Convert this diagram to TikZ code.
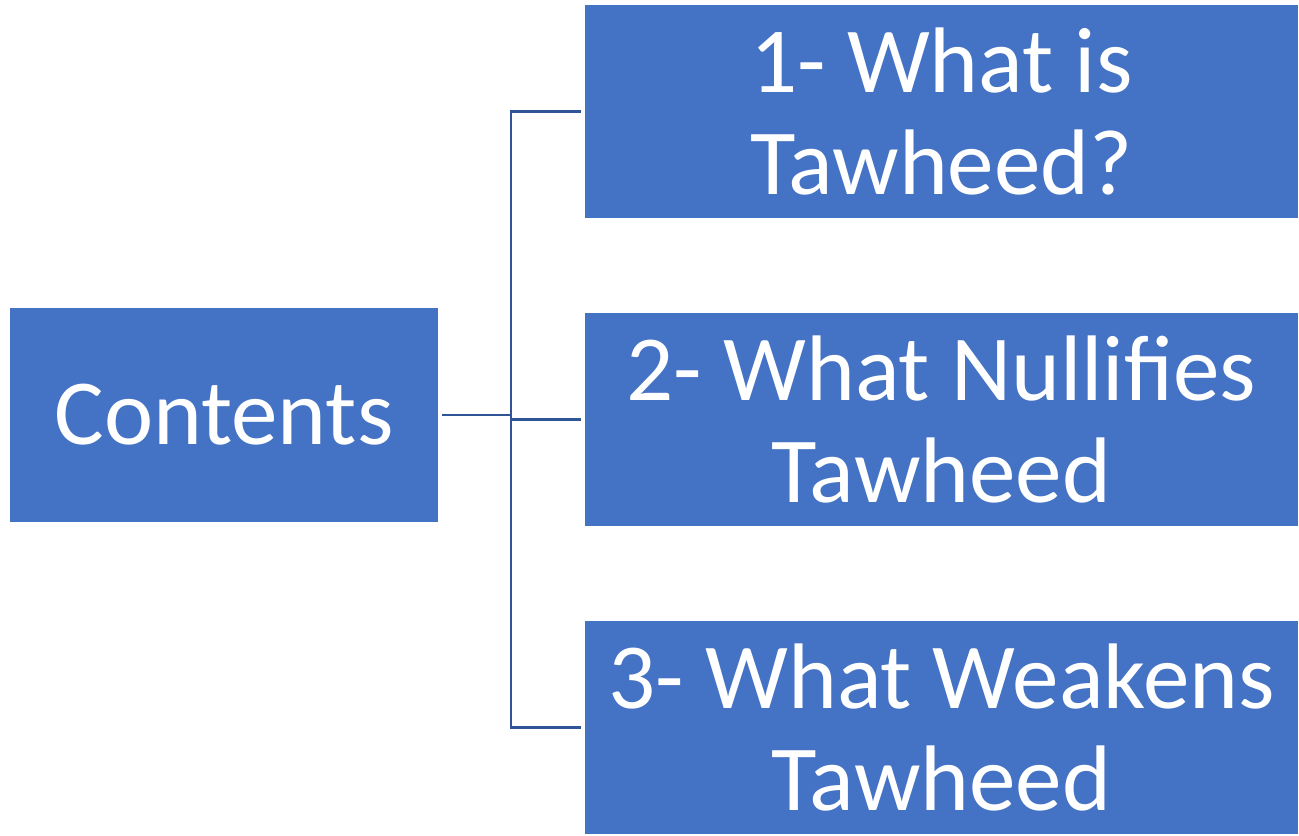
\documentclass[tikz,border=0pt]{standalone}
\usepackage{fontspec}
\setmainfont{Carlito}
\definecolor{boxblue}{HTML}{4472C4}
\definecolor{lineblue}{HTML}{2F5597}

\begin{document}
\begin{tikzpicture}[
		topic/.style={fill=boxblue,text=white,inner sep=0pt,align=center,
			font=\fontsize{53}{58}\selectfont},
		link/.style={draw=lineblue,line width=1.4pt}]
		\useasboundingbox (0,0) rectangle (25.98,16.72);
		\node[topic,minimum width=8.56cm,minimum height=4.28cm] (contents) at (4.48,8.42) {Contents};
		\node[topic,minimum width=14.26cm,minimum height=4.26cm] (t1) at (18.83,14.49) {1- What is\\Tawheed?};
		\node[topic,minimum width=14.26cm,minimum height=4.26cm] (t2) at (18.83,8.33) {2- What Nullifies\\Tawheed};
		\node[topic,minimum width=14.26cm,minimum height=4.26cm] (t3) at (18.83,2.17) {3- What Weakens\\Tawheed};
		
		\coordinate (fork) at (10.22,8.42);
		\draw[link] ([xshift=2pt]contents.east) -- (fork);
		\foreach \t in {t1,t2,t3} {
			\draw[link] (fork) |- ([xshift=-2pt]\t.west);
		}
	\end{tikzpicture}
\end{document}
